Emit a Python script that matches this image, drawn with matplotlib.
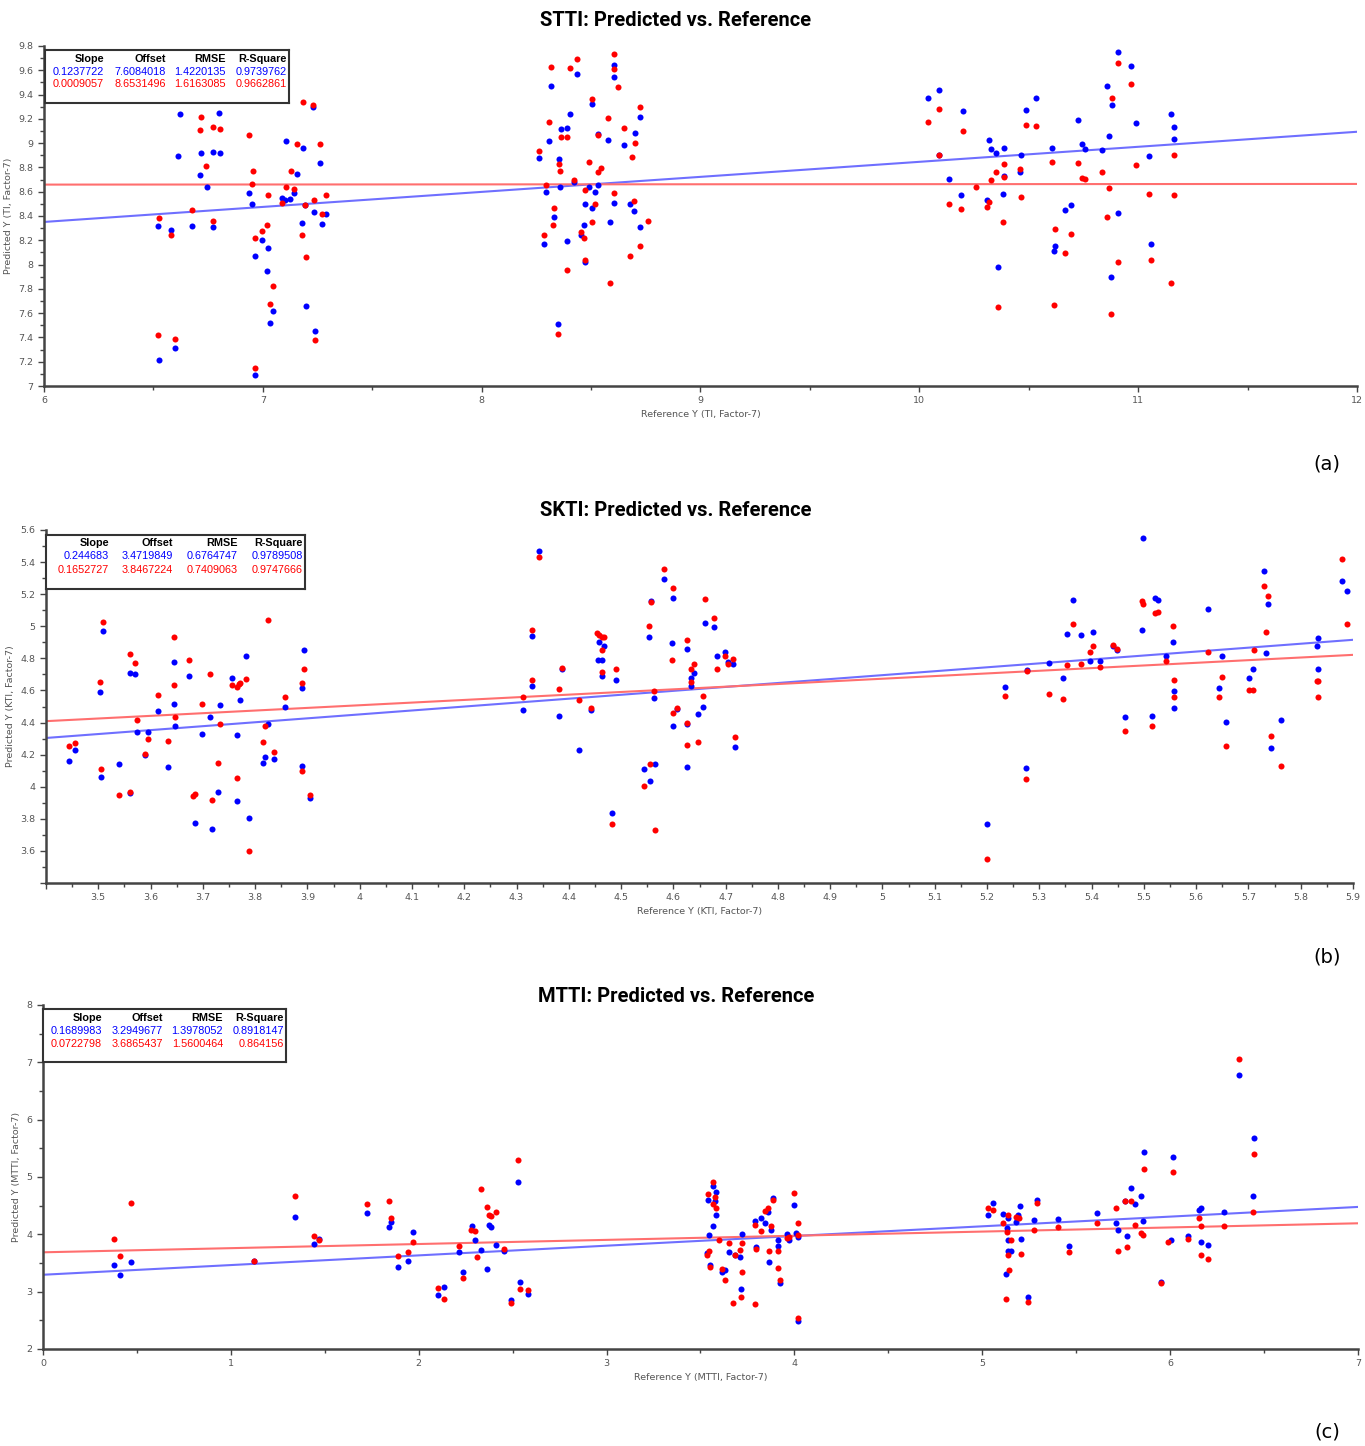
import matplotlib
matplotlib.use("Agg")
import matplotlib.pyplot as plt
from matplotlib.ticker import MultipleLocator, FuncFormatter

# ---------------- data ----------------
# (a) STTI
stti_blue_x = [6.522, 6.579, 6.614, 6.62, 6.524, 6.598, 6.675, 6.713, 6.716, 6.744, 6.772, 6.772, 6.80, 6.805,
               6.936, 6.951, 6.962, 6.966, 6.995, 7.024, 7.02, 7.034, 7.046, 7.089, 7.102, 7.108, 7.125, 7.142,
               7.156, 7.177, 7.185, 7.194, 7.197, 7.231, 7.234, 7.24, 7.26, 7.269, 7.29,
               8.261, 8.292, 8.307, 8.317, 8.33, 8.287, 8.355, 8.359, 8.364, 8.388, 8.391, 8.405, 8.424, 8.434,
               8.35, 8.456, 8.472, 8.469, 8.472, 8.489, 8.503, 8.506, 8.518, 8.532, 8.532, 8.579, 8.587, 8.604,
               8.604, 8.607, 8.65, 8.676, 8.696, 8.70, 8.722, 8.722,
               10.041, 10.091, 10.091, 10.134, 10.191, 10.201, 10.309, 10.317, 10.326, 10.349, 10.36, 10.381,
               10.386, 10.389, 10.46, 10.466, 10.489, 10.535, 10.604, 10.616, 10.619, 10.666, 10.694, 10.723,
               10.745, 10.756, 10.835, 10.857, 10.869, 10.877, 10.881, 10.907, 10.907, 10.965, 10.988, 11.049,
               11.059, 11.148, 11.163, 11.163]
stti_blue_y = [8.315, 8.285, 8.89, 9.24, 7.21, 7.31, 8.32, 8.74, 8.92, 8.64, 8.93, 8.31, 9.25, 8.92,
               8.586, 8.50, 8.07, 7.09, 8.205, 8.14, 7.95, 7.515, 7.616, 8.548, 8.534, 9.014, 8.542, 8.586,
               8.742, 8.345, 8.96, 8.49, 7.655, 9.30, 8.43, 7.452, 8.835, 8.33, 8.42,
               8.877, 8.595, 9.014, 9.471, 8.392, 8.167, 8.868, 8.636, 9.115, 9.123, 8.192, 9.238, 8.679, 9.573,
               7.507, 8.244, 8.496, 8.323, 8.022, 8.641, 8.463, 9.323, 8.595, 9.077, 8.655, 9.022, 8.353, 9.641,
               9.542, 8.51, 8.984, 8.496, 8.438, 9.082, 9.216, 8.307,
               9.37, 9.438, 8.904, 8.704, 8.573, 9.263, 8.534, 9.03, 8.953, 8.921, 7.981, 8.581,
               8.732, 8.959, 8.764, 8.904, 9.271, 9.37, 8.959, 8.112, 8.153, 8.447, 8.493, 9.192,
               8.997, 8.951, 8.945, 9.471, 9.06, 7.896, 9.315, 9.751, 8.425, 9.636, 9.162, 8.896,
               8.167, 9.238, 9.132, 9.038]
stti_red_x = [6.524, 6.519, 6.579, 6.60, 6.675, 6.713, 6.718, 6.742, 6.772, 6.805, 6.772, 6.936, 6.953, 6.95,
              6.962, 6.966, 6.995, 7.02, 7.024, 7.034, 7.046, 7.089, 7.106, 7.127, 7.142, 7.156, 7.177, 7.185,
              7.194, 7.197, 7.231, 7.234, 7.24, 7.26, 7.269, 7.29,
              8.261, 8.292, 8.287, 8.307, 8.317, 8.324, 8.33, 8.355, 8.359, 8.364, 8.388, 8.391, 8.35, 8.405,
              8.424, 8.434, 8.456, 8.469, 8.472, 8.472, 8.489, 8.503, 8.506, 8.518, 8.532, 8.532, 8.544, 8.579,
              8.587, 8.604, 8.604, 8.607, 8.621, 8.65, 8.676, 8.688, 8.697, 8.70, 8.722, 8.722, 8.76,
              10.041, 10.091, 10.091, 10.134, 10.191, 10.201, 10.259, 10.309, 10.317, 10.326, 10.349, 10.36,
              10.381, 10.386, 10.389, 10.46, 10.466, 10.489, 10.535, 10.604, 10.616, 10.619, 10.666, 10.694,
              10.723, 10.745, 10.756, 10.835, 10.857, 10.869, 10.877, 10.881, 10.907, 10.907, 10.965, 10.988,
              11.049, 11.059, 11.148, 11.163, 11.163]
stti_red_y = [8.384, 7.42, 8.244, 7.384, 8.447, 9.107, 9.214, 8.814, 9.137, 9.12, 8.362, 9.066, 8.773, 8.663,
              8.222, 7.15, 8.277, 8.329, 8.57, 7.677, 7.825, 8.507, 8.636, 8.773, 8.625, 8.997, 8.244, 9.34,
              8.49, 8.066, 9.31, 8.532, 7.38, 8.997, 8.42, 8.57,
              8.937, 8.658, 8.244, 9.178, 9.627, 8.323, 8.463, 8.827, 8.773, 9.047, 9.047, 7.959, 7.43, 9.622,
              8.696, 9.696, 8.266, 8.222, 8.616, 8.036, 8.844, 8.353, 9.364, 8.501, 9.063, 8.764, 8.792, 9.208,
              7.849, 9.737, 9.611, 8.586, 9.463, 9.123, 8.074, 8.882, 8.523, 9.005, 9.301, 8.151, 8.362,
              9.178, 9.279, 8.899, 8.496, 8.455, 9.099, 8.636, 8.471, 8.518, 8.696, 8.759, 7.649,
              8.353, 8.721, 8.827, 8.789, 8.556, 9.153, 9.145, 8.844, 7.671, 8.29, 8.096, 8.252,
              8.836, 8.715, 8.704, 8.759, 8.392, 8.633, 7.589, 9.37, 9.663, 8.019, 9.488, 8.819,
              8.581, 8.036, 7.849, 8.904, 8.573]

# (b) SKTI
skti_blue_x = [3.444, 3.456, 3.504, 3.509, 3.506, 3.54, 3.56, 3.56, 3.571, 3.574, 3.59, 3.595, 3.614, 3.634,
               3.644, 3.644, 3.646, 3.674, 3.685, 3.699, 3.713, 3.717, 3.729, 3.733, 3.756, 3.765, 3.765, 3.772,
               3.783, 3.788, 3.816, 3.818, 3.824, 3.837, 3.858, 3.89, 3.89, 3.894, 3.905,
               4.312, 4.329, 4.33, 4.343, 4.381, 4.387, 4.42, 4.443, 4.455, 4.458, 4.463, 4.463, 4.467, 4.482,
               4.49, 4.544, 4.554, 4.556, 4.557, 4.563, 4.565, 4.583, 4.598, 4.6, 4.6, 4.607, 4.627, 4.627,
               4.627, 4.633, 4.633, 4.64, 4.647, 4.657, 4.66, 4.677, 4.684, 4.698, 4.704, 4.714, 4.718,
               5.2, 5.234, 5.275, 5.277, 5.319, 5.345, 5.352, 5.365, 5.379, 5.396, 5.402, 5.417, 5.44, 5.448,
               5.463, 5.497, 5.499, 5.515, 5.522, 5.527, 5.543, 5.555, 5.558, 5.558, 5.623, 5.644, 5.649, 5.657,
               5.702, 5.708, 5.729, 5.733, 5.738, 5.743, 5.763, 5.831, 5.834, 5.834, 5.879, 5.889]
skti_blue_y = [4.161, 4.228, 4.592, 4.973, 4.058, 4.143, 4.706, 3.959, 4.70, 4.344, 4.197, 4.34, 4.47, 4.12,
               4.778, 4.513, 4.379, 4.687, 3.772, 4.331, 4.433, 3.735, 3.966, 4.507, 4.675, 4.325, 3.911, 4.538,
               4.813, 3.803, 4.149, 4.186, 4.393, 4.172, 4.499, 4.127, 4.615, 4.851, 3.93,
               4.476, 4.938, 4.629, 5.47, 4.441, 4.731, 4.23, 4.478, 4.787, 4.90, 4.791, 4.689, 4.877, 3.834,
               4.665, 4.11, 4.932, 4.037, 5.16, 4.555, 4.141, 5.297, 4.896, 4.379, 5.174, 4.482, 4.858, 4.391,
               4.126, 4.677, 4.625, 4.708, 4.453, 4.494, 5.023, 4.994, 4.816, 4.837, 4.777, 4.766, 4.246,
               3.768, 4.623, 4.114, 4.727, 4.768, 4.677, 4.95, 5.164, 4.944, 4.781, 4.963, 4.781, 4.874, 4.853,
               4.435, 4.975, 5.551, 4.441, 5.174, 5.162, 4.816, 4.903, 4.598, 4.491, 5.108, 4.617, 4.812, 4.406,
               4.677, 4.731, 5.346, 4.834, 5.139, 4.24, 4.418, 4.878, 4.925, 4.731, 5.284, 5.218]
skti_red_x = [3.444, 3.456, 3.504, 3.509, 3.506, 3.54, 3.56, 3.56, 3.571, 3.574, 3.59, 3.595, 3.614, 3.634,
              3.644, 3.644, 3.646, 3.674, 3.681, 3.685, 3.699, 3.713, 3.717, 3.729, 3.733, 3.756, 3.765, 3.765,
              3.769, 3.772, 3.783, 3.788, 3.816, 3.818, 3.824, 3.837, 3.858, 3.89, 3.89, 3.894, 3.905,
              4.312, 4.329, 4.33, 4.343, 4.381, 4.387, 4.42, 4.443, 4.454, 4.458, 4.463, 4.467, 4.463, 4.463,
              4.49, 4.482, 4.544, 4.554, 4.556, 4.558, 4.563, 4.565, 4.583, 4.598, 4.6, 4.6, 4.607, 4.627,
              4.627, 4.627, 4.633, 4.633, 4.64, 4.647, 4.657, 4.66, 4.677, 4.684, 4.698, 4.704, 4.714, 4.718,
              5.2, 5.234, 5.275, 5.277, 5.319, 5.345, 5.352, 5.365, 5.379, 5.396, 5.402, 5.417, 5.44, 5.448,
              5.463, 5.497, 5.499, 5.515, 5.522, 5.527, 5.543, 5.555, 5.558, 5.558, 5.623, 5.644, 5.649, 5.657,
              5.702, 5.708, 5.729, 5.733, 5.738, 5.743, 5.71, 5.763, 5.831, 5.834, 5.834, 5.879, 5.889]
skti_red_y = [4.253, 4.271, 4.652, 5.029, 4.112, 3.948, 4.828, 3.967, 4.772, 4.418, 4.207, 4.30, 4.573, 4.288,
              4.936, 4.634, 4.435, 4.79, 3.942, 3.954, 4.518, 4.70, 3.917, 4.149, 4.393, 4.634, 4.621, 4.052,
              4.642, 4.648, 4.671, 3.602, 4.277, 4.379, 5.039, 4.217, 4.557, 4.646, 4.099, 4.731, 3.948,
              4.557, 4.975, 4.667, 5.433, 4.611, 4.737, 4.538, 4.489, 4.957, 4.946, 4.932, 4.932, 4.85, 4.718,
              4.731, 3.768, 4.006, 4.999, 4.141, 5.153, 4.598, 3.731, 5.356, 4.787, 4.46, 5.24, 4.489, 4.915,
              4.40, 4.259, 4.731, 4.652, 4.766, 4.277, 4.563, 5.171, 5.054, 4.733, 4.817, 4.766, 4.793, 4.313,
              3.549, 4.563, 4.048, 4.723, 4.58, 4.545, 4.756, 5.017, 4.762, 4.841, 4.878, 4.745, 4.884, 4.859,
              4.35, 5.16, 5.139, 4.381, 5.081, 5.091, 4.781, 4.999, 4.667, 4.557, 4.837, 4.557, 4.683, 4.253,
              4.602, 4.602, 5.253, 4.967, 5.186, 4.319, 4.853, 4.13, 4.658, 4.658, 4.557, 5.422, 5.017]

# (c) MTTI
mtti_blue_x = [0.378, 0.412, 0.467, 1.125, 1.342, 1.445, 1.468, 1.723, 1.844, 1.854, 1.888, 1.941, 1.972,
               2.105, 2.137, 2.216, 2.237, 2.283, 2.298, 2.33, 2.366, 2.373, 2.387, 2.414, 2.453, 2.491, 2.526,
               2.54, 2.583,
               3.538, 3.533, 3.544, 3.55, 3.565, 3.565, 3.583, 3.579, 3.583, 3.613, 3.631, 3.654, 3.684, 3.711,
               3.716, 3.719, 3.792, 3.797, 3.822, 3.845, 3.858, 3.867, 3.876, 3.885, 3.911, 3.915, 3.924, 3.959,
               3.97, 3.996, 4.009, 4.018, 4.018,
               5.032, 5.057, 5.11, 5.126, 5.133, 5.139, 5.139, 5.139, 5.155, 5.178, 5.189, 5.199, 5.204, 5.244,
               5.276, 5.29, 5.404, 5.462, 5.613, 5.711, 5.724, 5.76, 5.772, 5.789, 5.811, 5.843, 5.858, 5.862,
               5.951, 6.006, 6.013, 6.096, 6.151, 6.164, 6.164, 6.2, 6.287, 6.364, 6.441, 6.444]
mtti_blue_y = [3.463, 3.295, 3.516, 3.539, 4.305, 3.835, 3.916, 4.369, 4.131, 4.207, 3.429, 3.527, 4.033,
               2.941, 3.074, 3.70, 3.336, 4.154, 3.905, 3.731, 3.40, 4.166, 4.125, 3.818, 3.713, 2.848, 4.915,
               3.167, 2.958,
               4.596, 3.667, 3.992, 3.469, 4.84, 4.154, 4.741, 4.573, 4.34, 3.336, 3.382, 3.684, 3.643, 3.597,
               3.045, 4.003, 4.236, 3.771, 4.288, 4.201, 4.387, 3.516, 4.073, 4.642, 3.80, 3.905, 3.144, 4.003,
               3.905, 4.509, 4.027, 2.482, 3.957,
               4.34, 4.538, 4.352, 3.307, 4.108, 4.282, 3.899, 3.701, 3.701, 4.213, 4.34, 4.491, 3.916, 2.912,
               4.253, 4.596, 4.271, 3.789, 4.375, 4.189, 4.073, 4.584, 3.969, 4.811, 4.526, 4.66, 4.236, 5.444,
               3.167, 3.893, 5.357, 3.969, 4.422, 4.457, 3.87, 3.806, 4.387, 6.779, 4.677, 5.688]
mtti_red_x = [0.378, 0.412, 0.467, 1.125, 1.342, 1.445, 1.471, 1.723, 1.844, 1.854, 1.888, 1.941, 1.972,
              2.105, 2.137, 2.216, 2.237, 2.279, 2.298, 2.311, 2.33, 2.364, 2.373, 2.387, 2.414, 2.453, 2.491,
              2.526, 2.54, 2.583,
              3.538, 3.533, 3.544, 3.55, 3.565, 3.565, 3.579, 3.583, 3.597, 3.613, 3.631, 3.654, 3.684, 3.675,
              3.711, 3.719, 3.716, 3.719, 3.789, 3.792, 3.797, 3.822, 3.845, 3.858, 3.867, 3.876, 3.885, 3.911,
              3.915, 3.924, 3.959, 3.97, 3.996, 4.018, 4.018, 4.018,
              5.032, 5.057, 5.11, 5.126, 5.133, 5.139, 5.151, 5.139, 5.14, 5.178, 5.196, 5.204, 5.244, 5.276,
              5.29, 5.404, 5.462, 5.613, 5.711, 5.724, 5.76, 5.772, 5.789, 5.811, 5.846, 5.858, 5.862, 5.951,
              5.988, 6.013, 6.096, 6.151, 6.164, 6.164, 6.2, 6.287, 6.364, 6.441, 6.444]
mtti_red_y = [3.916, 3.614, 4.555, 3.539, 4.671, 3.969, 3.893, 4.526, 4.573, 4.288, 3.614, 3.684, 3.87,
              3.063, 2.865, 3.80, 3.237, 4.067, 4.05, 3.597, 4.793, 4.474, 4.34, 4.323, 4.387, 3.748, 2.796,
              5.304, 3.045, 3.028,
              4.706, 3.632, 3.713, 3.434, 4.909, 4.526, 4.654, 4.457, 3.899, 3.40, 3.196, 3.841, 3.632, 2.796,
              3.731, 3.847, 2.906, 3.336, 2.778, 4.166, 3.736, 4.05, 4.404, 4.456, 3.713, 4.154, 4.607, 3.713,
              3.411, 3.196, 3.934, 3.945, 4.724, 4.189, 2.54, 3.98,
              4.456, 4.422, 4.201, 2.877, 4.038, 4.34, 3.899, 3.643, 3.376, 4.305, 4.282, 3.649, 2.825, 4.073,
              4.555, 4.12, 3.684, 4.189, 4.456, 3.713, 4.59, 3.771, 4.573, 4.166, 4.027, 3.992, 5.142, 3.144,
              3.864, 5.089, 3.916, 4.288, 4.154, 3.643, 3.562, 4.137, 7.052, 4.387, 5.403]

# summary tables: slope, offset, rmse, r-square (blue row, red row)
stat_head = ["Slope", "Offset", "RMSE", "R-Square"]
stti_stats = [["0.1237722", "7.6084018", "1.4220135", "0.9739762"],
              ["0.0009057", "8.6531496", "1.6163085", "0.9662861"]]
skti_stats = [["0.244683", "3.4719849", "0.6764747", "0.9789508"],
              ["0.1652727", "3.8467224", "0.7409063", "0.9747666"]]
mtti_stats = [["0.1689983", "3.2949677", "1.3978052", "0.8918147"],
              ["0.0722798", "3.6865437", "1.5600464", "0.864156"]]

W, H = 1365, 1446
BLUE, RED = "#0000ff", "#ff0000"

fig = plt.figure(figsize=(W / 100, H / 100), dpi=100)
fig.patch.set_facecolor("white")


def fx(x):
    return x / W


def fy(y):
    return 1 - y / H


def draw_panel(p):
    l, t, r, b = p["box"]
    ax = fig.add_axes([fx(l), fy(b), fx(r - l), (b - t) / H])
    ax.set_xlim(*p["xlim"])
    ax.set_ylim(*p["ylim"])
    x0, x1 = p["xlim"]
    slope_b, off_b = float(p["stats"][0][0]), float(p["stats"][0][1])
    slope_r, off_r = float(p["stats"][1][0]), float(p["stats"][1][1])
    ax.plot([x0, x1], [off_b + slope_b * x0, off_b + slope_b * x1], color="#6f6fff", lw=1.5, zorder=1)
    ax.plot([x0, x1], [off_r + slope_r * x0, off_r + slope_r * x1], color="#ff6f6f", lw=1.5, zorder=1)
    ax.scatter(p["bx"], p["by"], s=19, color=BLUE, linewidths=0, zorder=2)
    ax.scatter(p["rx"], p["ry"], s=19, color=RED, linewidths=0, zorder=3)

    for s in ["top", "right"]:
        ax.spines[s].set_visible(False)
    for s in ["left", "bottom"]:
        ax.spines[s].set_color("#444444")
        ax.spines[s].set_linewidth(1.8)
    ax.xaxis.set_major_locator(MultipleLocator(p["xmaj"]))
    ax.xaxis.set_minor_locator(MultipleLocator(p["xmin"]))
    ax.yaxis.set_major_locator(MultipleLocator(p["ymaj"]))
    ax.yaxis.set_minor_locator(MultipleLocator(p["ymin"]))

    def make_fmt(skip):
        def f(v, pos):
            if skip is not None and abs(v - skip) < 1e-6:
                return ""
            return ("%.2f" % v).rstrip("0").rstrip(".")
        return FuncFormatter(f)

    ax.xaxis.set_major_formatter(make_fmt(p.get("skip_x")))
    ax.yaxis.set_major_formatter(make_fmt(p.get("skip_y")))
    ax.tick_params(which="both", direction="out", color="#444444", labelsize=6.8, labelcolor="#555555")
    ax.tick_params(which="major", length=4, width=1)
    ax.tick_params(which="minor", length=3, width=1)
    ax.set_xlabel(p["xlabel"], fontsize=6.8, color="#555555", labelpad=3)
    ax.set_ylabel(p["ylabel"], fontsize=6.8, color="#555555", labelpad=4)
    fig.text(fx(676), fy(p["title_y"]), p["title"], fontsize=14.5, fontweight="bold", family="Roboto",
             ha="center", va="center")

    # summary table box
    tl, tt, tr, tb = p["tbox"]
    tax = fig.add_axes([fx(tl), fy(tb), fx(tr - tl), (tb - tt) / H], zorder=5)
    tax.set_xticks([])
    tax.set_yticks([])
    for s in tax.spines.values():
        s.set_color("#333333")
        s.set_linewidth(1.5)
    rows = [(stat_head, "black", "bold"), (p["stats"][0], BLUE, "normal"), (p["stats"][1], RED, "normal")]
    for (vals, col, wt), ry in zip(rows, p["trows"]):
        for v, cx in zip(vals, p["tcols"]):
            fig.text(fx(cx), fy(ry), v, ha="right", va="center", color=col, fontweight=wt,
                     fontsize=7.8, family="Liberation Sans", zorder=6)

    fig.text(fx(p["tag_xy"][0]), fy(p["tag_xy"][1]), p["tag"], fontsize=14, ha="center", va="center")


panels = [
    dict(box=(44, 46, 1357, 386), xlim=(6, 12), ylim=(7, 9.8), xmaj=1, xmin=0.5, ymaj=0.2, ymin=0.1,
         bx=stti_blue_x, by=stti_blue_y, rx=stti_red_x, ry=stti_red_y, stats=stti_stats,
         title="STTI: Predicted vs. Reference", title_y=21, xlabel="Reference Y (TI, Factor-7)",
         ylabel="Predicted Y (TI, Factor-7)", tbox=(45, 50, 289, 103), trows=(59, 72, 84),
         tcols=(104, 166, 226, 287), tag="(a)", tag_xy=(1327, 464)),
    dict(box=(46, 530, 1353, 883), xlim=(3.4, 5.9), ylim=(3.4, 5.6), xmaj=0.1, xmin=0.05, ymaj=0.2, ymin=0.1,
         skip_x=3.4, skip_y=3.4,
         bx=skti_blue_x, by=skti_blue_y, rx=skti_red_x, ry=skti_red_y, stats=skti_stats,
         title="SKTI: Predicted vs. Reference", title_y=510, xlabel="Reference Y (KTI, Factor-7)",
         ylabel="Predicted Y (KTI, Factor-7)", tbox=(46, 535, 305, 589), trows=(543, 556, 570),
         tcols=(109, 173, 238, 303), tag="(b)", tag_xy=(1327, 957)),
    dict(box=(43, 1005, 1358, 1349), xlim=(0, 7), ylim=(2, 8), xmaj=1, xmin=0.5, ymaj=1, ymin=0.5,
         bx=mtti_blue_x, by=mtti_blue_y, rx=mtti_red_x, ry=mtti_red_y, stats=mtti_stats,
         title="MTTI: Predicted vs. Reference", title_y=996, xlabel="Reference Y (MTTI, Factor-7)",
         ylabel="Predicted Y (MTTI, Factor-7)", tbox=(43, 1009, 286, 1062), trows=(1018, 1031, 1044),
         tcols=(102, 163, 223, 284), tag="(c)", tag_xy=(1327, 1432)),
]

for p in panels:
    draw_panel(p)

fig.savefig("out.png", dpi=100)
